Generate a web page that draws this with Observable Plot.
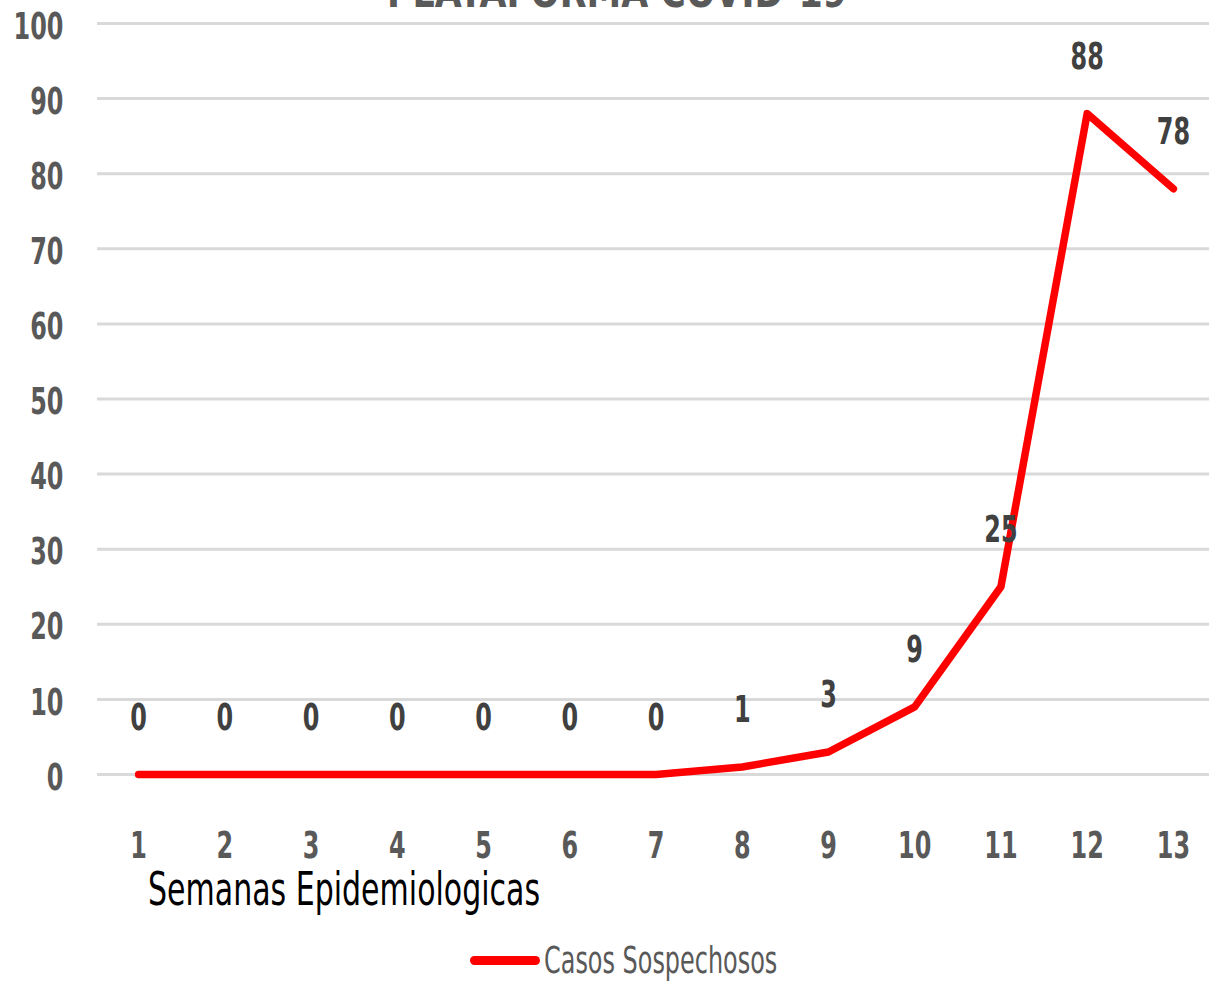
<!DOCTYPE html>
<html>
<head>
<meta charset="utf-8">
<script src="https://cdn.jsdelivr.net/npm/d3@7"></script>
<script src="https://cdn.jsdelivr.net/npm/@observablehq/plot@0.6"></script>
<style>
  html, body { margin:0; padding:0; background:#fff; overflow:hidden; }
  #wrap { position:relative; width:1209px; height:983px; overflow:hidden; }
  .f { font-family:"DejaVu Sans Condensed","DejaVu Sans",sans-serif; white-space:nowrap; }
  #title { position:absolute; left:617px; top:-30px; font-size:44px; font-weight:bold; color:#595959; line-height:44px; transform:translateX(-50%) scaleX(0.88); transform-origin:center; }
  #xlabel { position:absolute; left:148px; top:870px; font-size:46px; color:#000; line-height:38px; transform:scaleX(0.725); transform-origin:left center; }
  #legend { position:absolute; left:470px; top:938px; height:44px; display:flex; align-items:center; }
  #legend .sw { width:70px; height:9px; background:#ff0000; border-radius:4.5px; margin-right:4px; flex:none; }
  #legend span { font-size:38px; color:#595959; line-height:44px; display:inline-block; transform:scaleX(0.70); transform-origin:left center; }
</style>
</head>
<body>
<div id="wrap">
  <div id="chart"></div>
  <div id="title" class="f">PLATAFORMA COVID-19</div>
  <div id="xlabel" class="f">Semanas Epidemiologicas</div>
  <div id="legend" class="f"><div class="sw"></div><span>Casos Sospechosos</span></div>
</div>
<script>
const semanas = [1,2,3,4,5,6,7,8,9,10,11,12,13];
const casos = [0,0,0,0,0,0,0,1,3,9,25,88,78];
const yTicks = [0,10,20,30,40,50,60,70,80,90,100];
const seriesName = "Casos Sospechosos";

const data = semanas.map((s,i)=>({semana:s, casos:casos[i]}));
const font = '"DejaVu Sans Condensed","DejaVu Sans",sans-serif';

const chart = Plot.plot({
  width: 1209,
  height: 983,
  marginLeft: 97,
  marginRight: 0,
  marginTop: 0,
  marginBottom: 0,
  style: {fontFamily: font, background: "transparent", overflow: "visible"},
  x: {domain: [0.5, 13.5], range: [95, 1216], axis: null},
  y: {domain: [0, 100], range: [774, 23], axis: null},
  marks: [
    Plot.ruleY(yTicks, {stroke: "#d9d9d9", strokeWidth: 3}),
    Plot.text(yTicks, {x: () => 0.5, y: d => d, text: d => String(d), textAnchor: "end", dx: -32, dy: 3, fill: "#595959", fontSize: 38, fontWeight: "bold"}),
    Plot.text(semanas, {x: d => d, y: () => 0, text: d => String(d), dy: 71, fill: "#595959", fontSize: 38, fontWeight: "bold"}),
    Plot.line(data, {x: "semana", y: "casos", stroke: "#ff0000", strokeWidth: 7.5, strokeLinecap: "round", strokeLinejoin: "round"}),
    Plot.text(data, {x: "semana", y: "casos", text: d => String(d.casos), dy: -57, fill: "#404040", fontSize: 38, fontWeight: "bold"})
  ]
});
document.getElementById("chart").appendChild(chart);

// condense SVG texts horizontally (emulating a narrow font)
const SX = 0.70;
chart.querySelectorAll("text").forEach(t => {
  const g = document.createElementNS("http://www.w3.org/2000/svg", "g");
  t.parentNode.insertBefore(g, t);
  g.appendChild(t);
  const b = g.getBBox();
  const anchor = getComputedStyle(t).textAnchor;
  const ax = anchor === "end" ? b.x + b.width : anchor === "start" ? b.x : b.x + b.width / 2;
  g.setAttribute("transform", `translate(${ax},0) scale(${SX},1) translate(${-ax},0)`);
});
</script>
</body>
</html>
